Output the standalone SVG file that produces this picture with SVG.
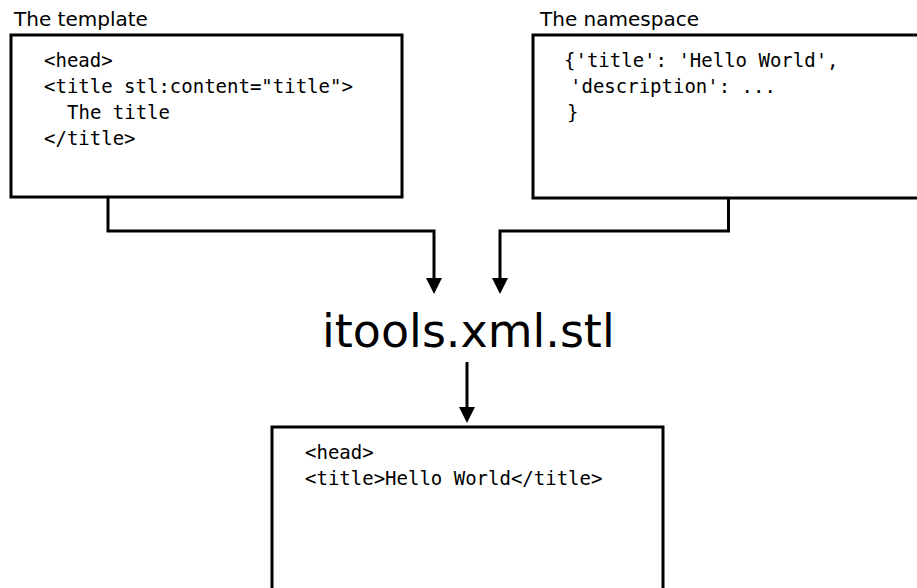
<svg xmlns="http://www.w3.org/2000/svg" width="917" height="588" viewBox="0 0 917 588">
<style>
.box{fill:#fff;stroke:#000;stroke-width:3}
.lbl{font-family:"DejaVu Sans",sans-serif;font-size:20px;fill:#000}
.code{font-family:"DejaVu Sans Mono",monospace;font-size:19px;fill:#000;white-space:pre}
.big{font-family:"DejaVu Sans",sans-serif;font-size:46px;fill:#000}
.wire{fill:none;stroke:#000;stroke-width:3}
.head{fill:#000}
</style>
<rect width="917" height="588" fill="#fff"/>
<g id="template">
<text class="lbl" x="14" y="26">The template</text>
<rect class="box" x="11" y="35" width="391" height="162"/>
<text class="code" x="44" y="67">&lt;head&gt;</text>
<text class="code" x="44" y="93">&lt;title stl:content="title"&gt;</text>
<text class="code" x="67" y="119">The title</text>
<text class="code" x="44" y="145">&lt;/title&gt;</text>
</g>
<g id="namespace">
<text class="lbl" x="540" y="26">The namespace</text>
<rect class="box" x="533" y="35" width="390" height="163"/>
<text class="code" x="564" y="67">{'title': 'Hello World',</text>
<text class="code" x="570" y="93">'description': ...</text>
<text class="code" x="567" y="119">}</text>
</g>
<g id="stl">
<text class="big" x="322" y="347">itools.xml.stl</text>
</g>
<g id="output">
<rect class="box" x="272" y="427" width="391" height="170"/>
<text class="code" x="305" y="459">&lt;head&gt;</text>
<text class="code" x="305" y="485">&lt;title&gt;Hello World&lt;/title&gt;</text>
</g>
<g id="connectors">
<path class="wire" d="M108,197 V231 H434 V280"/>
<polygon class="head" points="426,278 442,278 434,294"/>
<path class="wire" d="M728.5,198 V231 H500 V280"/>
<polygon class="head" points="492,278 508,278 500,294"/>
<path class="wire" d="M467,362 V409"/>
<polygon class="head" points="459,407 475,407 467,423"/>
</g>
</svg>
